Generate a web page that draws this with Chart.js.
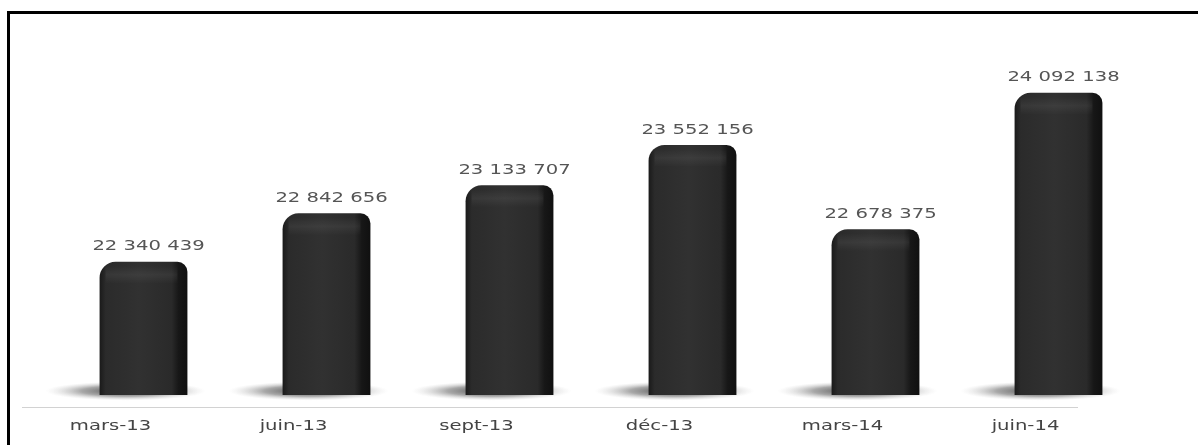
<!DOCTYPE html>
<html lang="fr">
<head>
<meta charset="utf-8">
<script src="https://cdn.jsdelivr.net/npm/chart.js@4"></script>
<style>
  html, body { margin: 0; padding: 0; background: #fff; }
  #cadre {
    position: absolute; left: 7px; top: 11px;
    width: 1188px; height: 431px;
    border-left: 3px solid #000; border-top: 3px solid #000;
  }
  #boite { position: relative; width: 1188px; height: 431px; }
</style>
</head>
<body>
<div id="cadre"><div id="boite"><canvas id="graph"></canvas></div></div>
<script>
// données
const categories = ['mars-13', 'juin-13', 'sept-13', 'déc-13', 'mars-14', 'juin-14'];
const effectifs = [22340439, 22842656, 23133707, 23552156, 22678375, 24092138];
const axeMin = 20960000;
const axeMax = 24432000;

const fmt = n => String(n).replace(/\B(?=(\d{3})+(?!\d))/g, ' ');
const ETIR = 1.4; // texte étiré horizontalement comme sur l'image

function degradeBarre(ctx) {
    const ch = ctx.chart;
    if (!ch.chartArea || !ch.scales.x) return '#2a2a2a';
    const xs = ch.scales.x;
    const cx = xs.getPixelForValue(ctx.dataIndex);
    const w = (xs.width / categories.length) * 0.48;
    const g = ch.ctx.createLinearGradient(cx - w / 2, 0, cx + w / 2, 0);
    g.addColorStop(0, '#1a1a1a');
    g.addColorStop(0.07, '#2b2b2b');
    g.addColorStop(0.45, '#313131');
    g.addColorStop(0.82, '#2a2a2a');
    g.addColorStop(0.9, '#171717');
    g.addColorStop(1, '#101010');
    return g;
}

const ombres = {
    id: 'ombres',
    beforeDatasetsDraw(chart) {
        const c = chart.ctx;
        const a = chart.chartArea;
        const xs = chart.scales.x;
        categories.forEach((lab, i) => {
            const cx = xs.getPixelForValue(i);
            c.save();
            c.translate(cx - 18, a.bottom - 4);
            c.scale(1, 0.12);
            const r = 80;
            const g = c.createRadialGradient(0, 0, 0, 0, 0, r);
            g.addColorStop(0, 'rgba(50,50,50,0.95)');
            g.addColorStop(0.55, 'rgba(110,110,110,0.6)');
            g.addColorStop(1, 'rgba(200,200,200,0)');
            c.fillStyle = g;
            c.beginPath();
            c.arc(0, 0, r, 0, Math.PI * 2);
            c.fill();
            c.restore();
        });
        // ligne de base
        c.save();
        c.strokeStyle = '#d2d2d2';
        c.lineWidth = 1;
        c.beginPath();
        c.moveTo(12, a.bottom + 12.5);
        c.lineTo(1068, a.bottom + 12.5);
        c.stroke();
        c.restore();
    }
};

const textes = {
    id: 'textes',
    afterDatasetsDraw(chart) {
        const c = chart.ctx;
        const a = chart.chartArea;
        const xs = chart.scales.x;
        c.save();
        c.font = '14px "DejaVu Sans"';
        c.textAlign = 'center';
        c.textBaseline = 'middle';
        chart.getDatasetMeta(0).data.forEach((b, i) => {
            // léger reflet sous le sommet de la barre
            const w = b.width;
            const hl = c.createLinearGradient(0, b.y + 4, 0, b.y + 22);
            hl.addColorStop(0, 'rgba(255,255,255,0)');
            hl.addColorStop(0.5, 'rgba(255,255,255,0.06)');
            hl.addColorStop(1, 'rgba(255,255,255,0)');
            c.fillStyle = hl;
            c.fillRect(b.x - w / 2 + 6, b.y + 4, w - 16, 18);

            c.save();
            c.fillStyle = '#555';
            c.translate(b.x + 5, b.y - 15);
            c.scale(ETIR, 1);
            c.fillText(fmt(effectifs[i]), 0, 0);
            c.restore();
        });
        categories.forEach((lab, i) => {
            c.save();
            c.fillStyle = '#444';
            c.translate(xs.getPixelForValue(i) - 33, a.bottom + 31);
            c.scale(ETIR, 1);
            c.fillText(lab, 0, 0);
            c.restore();
        });
        c.restore();
    }
};

new Chart(document.getElementById('graph'), {
    type: 'bar',
    data: {
        labels: categories,
        datasets: [{
            data: effectifs,
            backgroundColor: degradeBarre,
            borderWidth: 0,
            borderSkipped: false,
            borderRadius: { topLeft: 16, topRight: 10, bottomLeft: 10, bottomRight: 10 },
            categoryPercentage: 1,
            barPercentage: 0.48
        }]
    },
    options: {
        responsive: true,
        maintainAspectRatio: false,
        animation: false,
        layout: { padding: { left: 42, right: 48, top: 46, bottom: 50 } },
        plugins: { legend: { display: false }, tooltip: { enabled: false } },
        scales: {
            x: { display: false },
            y: { display: false, min: axeMin, max: axeMax }
        }
    },
    plugins: [ombres, textes]
});
</script>
</body>
</html>
